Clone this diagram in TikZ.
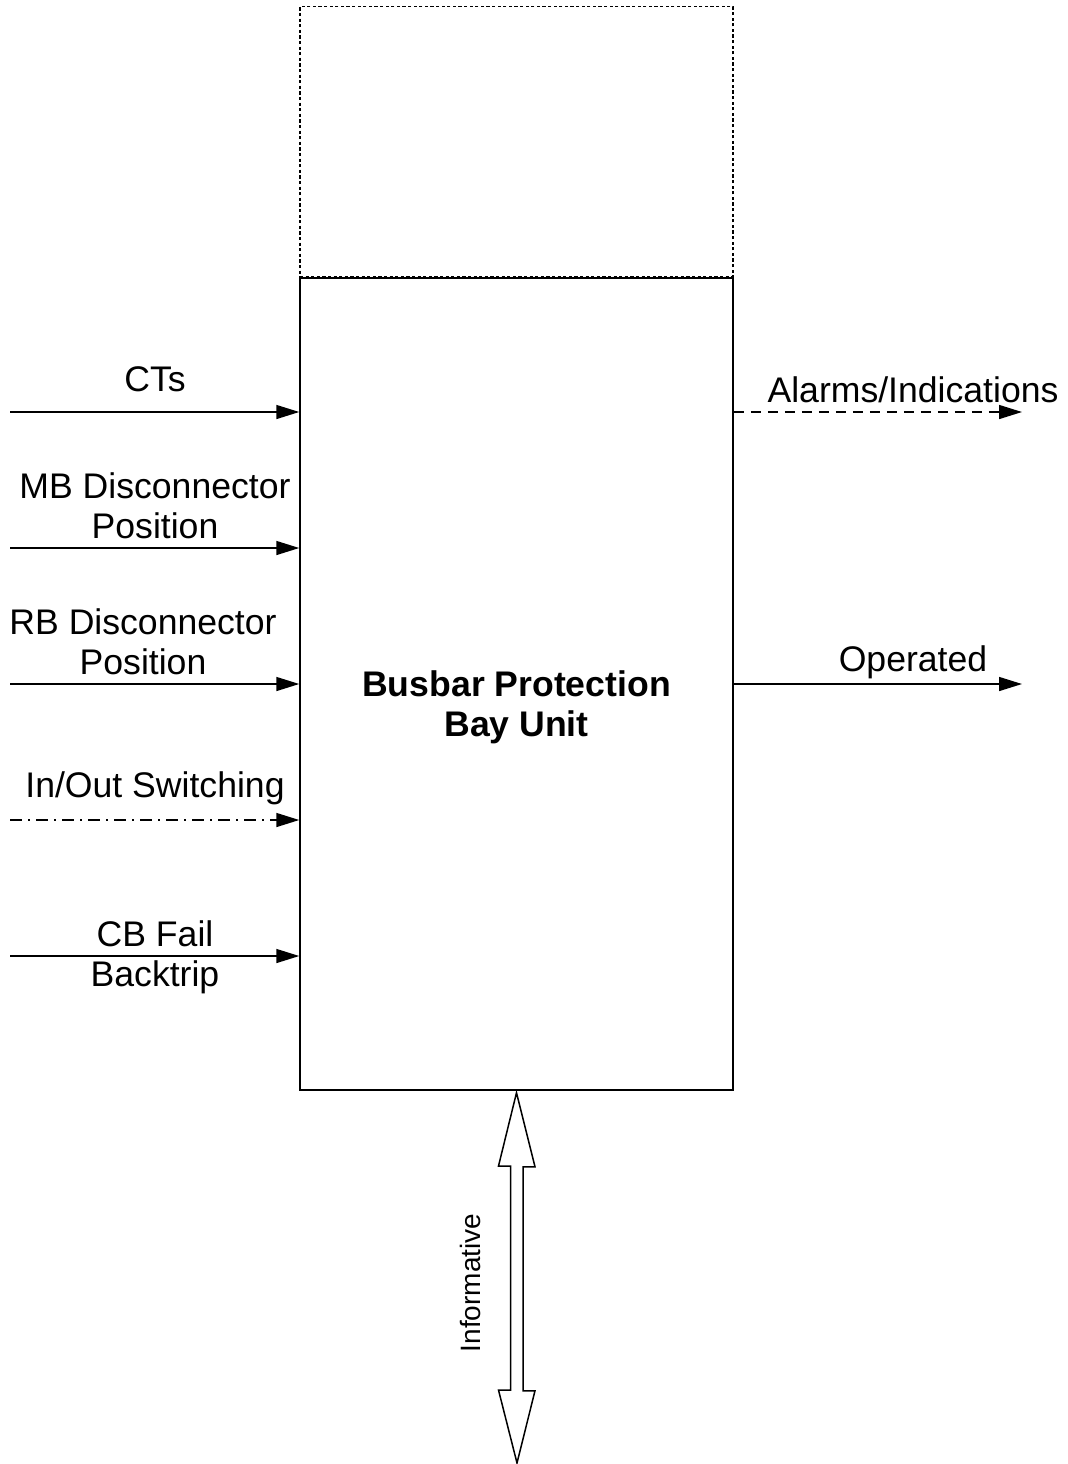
\documentclass[tikz,border=0pt]{standalone}
\usepackage{fontspec}
\setmainfont{Liberation Sans}
\usepackage{tikz}
\usetikzlibrary{positioning,arrows.meta}
\tikzset{
  unitbox/.style ={draw, line width=0.75pt, minimum width=216.5pt, minimum height=406pt, inner sep=0pt},
  extbox/.style  ={unitbox, dash pattern=on 1.6pt off 1.2pt, minimum height=135pt},
  lbl/.style     ={font=\fontsize{17.8}{20}\selectfont, align=center, inner sep=0pt},
  title/.style   ={lbl, font=\fontsize{17.8}{20}\selectfont\bfseries},
  flow/.style    ={-{Triangle[length=11.5pt,width=7pt]}, line width=0.75pt},
  dflow/.style   ={flow, dash pattern=on 5pt off 3.5pt},
  cflow/.style   ={flow, dash pattern=on 6pt off 3pt on 1pt off 3pt},
  hollow/.style  ={draw, line width=0.75pt, fill=white},
}
\begin{document}
\begin{tikzpicture}[x=0.5pt, y=-0.5pt]
  \useasboundingbox (0,0) rectangle (1068,1464);
  % the unit
  \node[unitbox] (unit) at (516.5,684) {};
  \node[extbox, above=0pt of unit] (ext) {};
  \node[title] (name) at (516.5,707) {Busbar Protection\\Bay Unit};

  % inputs
  \coordinate (ctin) at (10,412);
  \coordinate (mbin) at (10,548);
  \coordinate (rbin) at (10,684);
  \coordinate (ioin) at (10,820);
  \coordinate (cbin) at (10,956);
  \draw[flow] (ctin) -- (ctin -| unit.west);
  \draw[flow] (mbin) -- (mbin -| unit.west);
  \draw[flow] (rbin) -- (rbin -| unit.west);
  \draw[cflow] (ioin) -- (ioin -| unit.west);
  \draw[flow] (cbin) -- (cbin -| unit.west);
  \node[lbl] (ctlbl) at (155,379) {CTs};
  \node[lbl] (mblbl) at (155,506) {MB Disconnector\\Position};
  \node[lbl] (rblbl) at (143,642) {RB Disconnector\\Position};
  \node[lbl] (iolbl) at (155,788) {In/Out Switching};
  \node[lbl] (cblbl) at (155,957) {CB Fail\\Backtrip};

  % outputs
  \coordinate (alout) at (1022,412);
  \coordinate (opout) at (1022,684);
  \draw[dflow] (alout -| unit.east) -- (alout);
  \draw[flow] (opout -| unit.east) -- (opout);
  \node[lbl] (allbl) at (913,390) {Alarms/Indications};
  \node[lbl] (oplbl) at (913,662) {Operated};

  % informative link
  \coordinate (info) at (517,1463);
  \draw[hollow] ([yshift=-1pt]unit.south) -- ++(18.5,74) -- ++(-12,0) -- ++(0,224) -- ++(12,0)
    -- (info) -- ++(-18.5,-73) -- ++(12,0) -- ++(0,-224) -- ++(-12,0) -- cycle;
  \node[lbl, font=\fontsize{14}{16}\selectfont, rotate=90] (infolbl) at (470,1283) {Informative};
\end{tikzpicture}
\end{document}
